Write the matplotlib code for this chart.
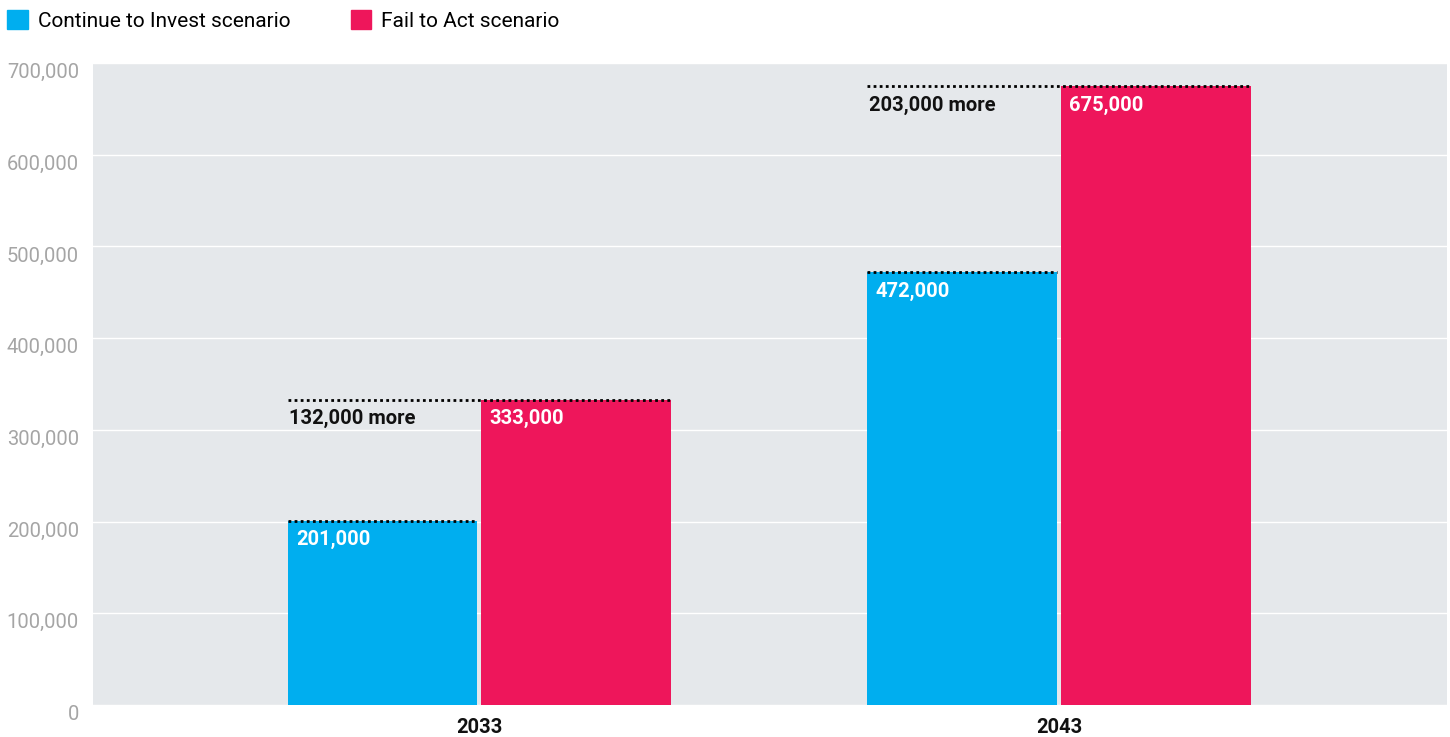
import matplotlib.pyplot as plt
from matplotlib.patches import Patch

plt.rcParams['font.family'] = ['Roboto', 'DejaVu Sans']

years = ['2033', '2043']
invest = [201000, 472000]
fail = [333000, 675000]
series_names = ['Continue to Invest scenario', 'Fail to Act scenario']
yticks = [0, 100000, 200000, 300000, 400000, 500000, 600000, 700000]

blue = '#00AEEF'
red = '#EE165B'
bg = '#E5E8EB'

fig = plt.figure(figsize=(14.5, 7.37), dpi=100)
ax = fig.add_axes([0.0641, 0.0434, 0.9339, 0.8711])
ax.set_facecolor(bg)

w = 0.327
gap = 0.0035
xs = list(range(len(years)))
for i, x in enumerate(xs):
    bl = x - gap - w
    rl = x + gap
    ax.bar(bl, invest[i], width=w, align='edge', color=blue, zorder=2)
    ax.bar(rl, fail[i], width=w, align='edge', color=red, zorder=2)

    # dotted markers on top of each bar, the red one spanning both
    ax.plot([bl, bl + w], [invest[i], invest[i]], ls=(0, (1, 1.2)),
            color='black', lw=2, zorder=3)
    ax.plot([bl, rl + w], [fail[i], fail[i]], ls=(0, (1, 1.2)),
            color='black', lw=2, zorder=3)

    ax.annotate(f'{invest[i]:,}', (bl, invest[i]), xytext=(6, -7),
                textcoords='offset points', ha='left', va='top',
                color='white', fontsize=14.5, fontweight='bold', zorder=4)
    ax.annotate(f'{fail[i]:,}', (rl, fail[i]), xytext=(6, -7),
                textcoords='offset points', ha='left', va='top',
                color='white', fontsize=14.5, fontweight='bold', zorder=4)
    ax.annotate(f'{fail[i] - invest[i]:,} more', (bl, fail[i]), xytext=(1, -7),
                textcoords='offset points', ha='left', va='top',
                color='#111111', fontsize=14.5, fontweight='bold', zorder=4)

ax.set_xlim(-0.666, 1.669)
ax.set_ylim(0, 700000)
ax.set_xticks(xs)
ax.set_xticklabels(years, fontsize=14.5, fontweight='bold', color='#111111')
ax.set_yticks(yticks)
ax.set_yticklabels([f'{v:,}' for v in yticks], fontsize=14.5,
                   color='#A5A5A5', va='top')
ax.tick_params(axis='both', length=0)
ax.tick_params(axis='y', pad=10)
ax.tick_params(axis='x', pad=9)
ax.grid(axis='y', color='white', lw=1.0, zorder=1)
ax.set_axisbelow(True)
for s in ax.spines.values():
    s.set_visible(False)

handles = [Patch(color=blue), Patch(color=red)]
fig.legend(handles, series_names, loc='upper left', bbox_to_anchor=(0.0, 0.996),
           ncol=2, frameon=False, fontsize=15, handlelength=1.0,
           handleheight=1.0, handletextpad=0.45, columnspacing=2.9,
           borderaxespad=0.0, borderpad=0.35)

fig.savefig('out.png', dpi=100, facecolor='white')
